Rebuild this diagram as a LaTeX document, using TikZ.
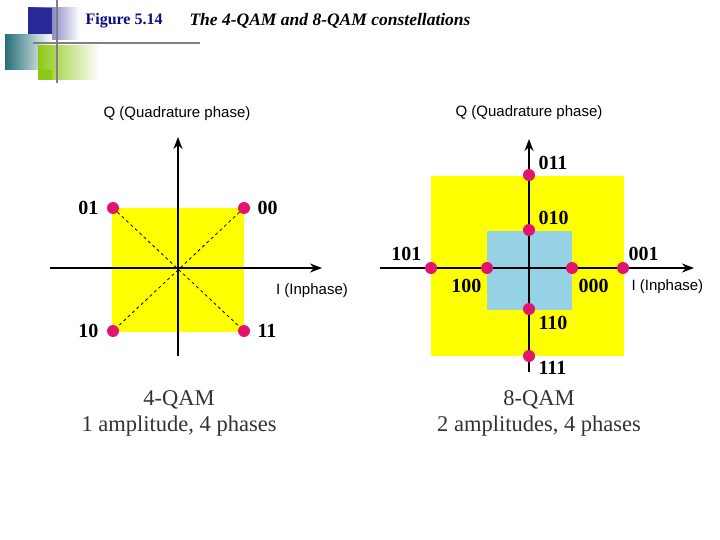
\documentclass[tikz,border=0pt]{standalone}
\usepackage{fontspec}
\setmainfont{Liberation Serif}
\newfontfamily\sansf{Liberation Sans}
\usetikzlibrary{arrows.meta}
\definecolor{dotc}{RGB}{225,20,110}
\definecolor{yel}{RGB}{255,255,0}
\definecolor{lblue}{RGB}{150,210,230}
\definecolor{dblue}{RGB}{40,40,150}
\definecolor{teal2}{RGB}{40,110,120}
\definecolor{lgreen}{RGB}{140,200,20}
\definecolor{navy2}{RGB}{10,10,130}
\definecolor{capc}{RGB}{50,50,50}
\begin{document}
\begin{tikzpicture}[x=1pt,y=-1pt,
  dot/.style={circle,fill=dotc,inner sep=0,minimum size=12pt},
  lab/.style={font=\bfseries\fontsize{20}{20}\selectfont},
  axis/.style={line width=1.8pt,-{Stealth[length=12pt,width=9pt]}},
  axlab/.style={font=\sansf\fontsize{15}{15}\selectfont},
  captxt/.style={font=\fontsize{22.5}{26}\selectfont,align=center,text=capc}]
\useasboundingbox (0,0) rectangle (720,540);
% decoration
\shade[left color=dblue,right color=white] (28,8) rectangle (80,40);
\fill[dblue] (28,8) rectangle (52,40);
\shade[left color=teal2,right color=white] (5,35) rectangle (52,70);
\shade[left color=lgreen,right color=white] (38,46) rectangle (100,80);
\fill[lgreen] (38,70) rectangle (52,80);
\draw[gray,line width=2.5pt] (57,0) -- (57,83);
\draw[gray,line width=2.5pt] (33,43) -- (200,43);
\node[anchor=west,font=\bfseries\fontsize{16}{16}\selectfont,text=navy2] (fig) at (82,21) {Figure 5.14};
\node[anchor=west,font=\bfseries\itshape\fontsize{17.5}{17.5}\selectfont] (title) at (186,21) {The 4-QAM and 8-QAM constellations};
% left
\fill[yel] (112,208) rectangle (244,332);
\node[dot] (a01) at (113,208) {};
\node[dot] (a00) at (244,208) {};
\node[dot] (a10) at (113,331) {};
\node[dot] (a11) at (244,331) {};
\draw[dashed,thick] (a01) -- (a11);
\draw[dashed,thick] (a00) -- (a10);
\coordinate (lvb) at (178,356); \coordinate (lvt) at (178,137);
\coordinate (lhl) at (50,268); \coordinate (lhr) at (322,268);
\draw[axis] (lvb) -- (lvt);
\draw[axis] (lhl) -- (lhr);
\node[lab,anchor=east] (t01) at (102,208) {01};
\node[lab,anchor=west] (t00) at (254,208) {00};
\node[lab,anchor=east] (t10) at (102,331) {10};
\node[lab,anchor=west] (t11) at (254,331) {11};
\node[axlab] (lq) at (177,114) {Q (Quadrature phase)};
\node[axlab] (li) at (312,291) {I (Inphase)};
\node[captxt] (lcap) at (179,413) {4-QAM\\1 amplitude, 4 phases};
% right
\fill[yel] (431,176) rectangle (624,356);
\fill[lblue] (487,231) rectangle (572,310);
\coordinate (rvb) at (529,372); \coordinate (rvt) at (529,139);
\coordinate (rhl) at (380,268); \coordinate (rhr) at (694,268);
\draw[axis] (rvb) -- (rvt);
\draw[axis] (rhl) -- (rhr);
\node[dot] (b011) at (529,175) {};
\node[dot] (b010) at (529,230) {};
\node[dot] (b101) at (431,268) {};
\node[dot] (b100) at (487,268) {};
\node[dot] (b000) at (572,268) {};
\node[dot] (b001) at (623,268) {};
\node[dot] (b110) at (529,309) {};
\node[dot] (b111) at (529,356) {};
\node[lab,anchor=west] (c011) at (535,163) {011};
\node[lab,anchor=west] (c010) at (535,218) {010};
\node[lab,anchor=east] (c101) at (425,254) {101};
\node[lab,anchor=east] (c100) at (485,286) {100};
\node[lab,anchor=west] (c000) at (575,286) {000};
\node[lab,anchor=west] (c001) at (625,254) {001};
\node[lab,anchor=west] (c110) at (535,323) {110};
\node[lab,anchor=west] (c111) at (535,368) {111};
\node[axlab] (rq) at (529,113) {Q (Quadrature phase)};
\node[axlab,anchor=west] (ri) at (628,287) {I (Inphase)};
\node[captxt] (rcap) at (539,413) {8-QAM\\2 amplitudes, 4 phases};
\end{tikzpicture}
\end{document}
